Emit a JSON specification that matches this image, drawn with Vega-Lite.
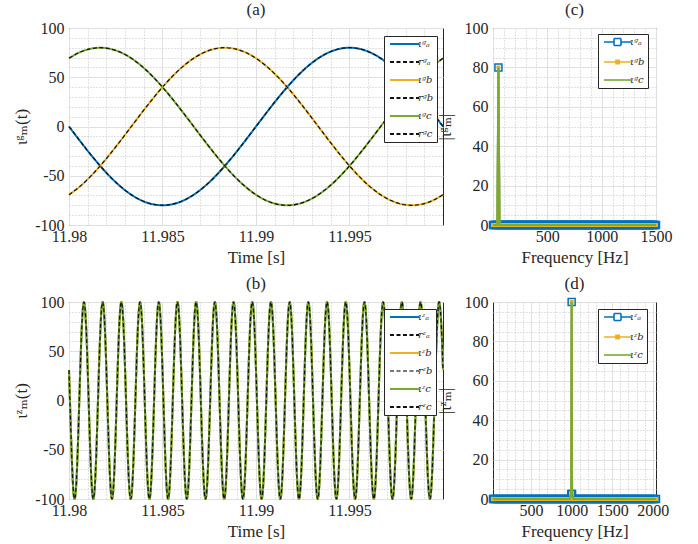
{
"$schema":"https://vega.github.io/schema/vega-lite/v6.json",
"background":"white",
"padding":{"left":12,"top":0,"right":5,"bottom":3},
"config":{
 "font":"Times New Roman, Liberation Serif, DejaVu Serif, serif",
 "view":{"stroke":"#262626","strokeWidth":1},
 "axis":{"labelFont":"Times New Roman","labelFontSize":16,"labelColor":"#262626","titleFont":"Times New Roman, Liberation Serif, DejaVu Serif, serif","titleFontSize":17,"titleFontWeight":"normal","titleColor":"#262626","domain":false,"ticks":false,"labelPadding":5,"grid":true,"labelOverlap":false,"labelFlush":false,
  "encode":{"labels":{"update":{"font":{"value":"Times New Roman"},"fontSize":{"value":16}}}}},
 "axisX":{"titlePadding":5,"labelPadding":3},
 "title":{"font":"Times New Roman, Liberation Serif, DejaVu Serif, serif","fontSize":17,"fontWeight":"normal","color":"#262626","offset":1},
 "legend":{"orient":"none","fillColor":"white","strokeColor":"#262626","padding":3,"labelFont":"DejaVu Serif","labelFontSize":10,"labelFontStyle":"italic","labelColor":"#262626","rowPadding":8,"symbolSize":16,"symbolStrokeWidth":1.8}
},
"datasets":{
 "ag":[
{"t":11.98,"a":0,"b":-69.28,"c":69.28},
{"t":11.980556,"a":-13.89,"b":-61.28,"c":75.18},
{"t":11.981111,"a":-27.36,"b":-51.42,"c":78.78},
{"t":11.981667,"a":-40,"b":-40,"c":80},
{"t":11.982222,"a":-51.42,"b":-27.36,"c":78.78},
{"t":11.982778,"a":-61.28,"b":-13.89,"c":75.18},
{"t":11.983333,"a":-69.28,"b":0,"c":69.28},
{"t":11.983889,"a":-75.18,"b":13.89,"c":61.28},
{"t":11.984444,"a":-78.78,"b":27.36,"c":51.42},
{"t":11.985,"a":-80,"b":40,"c":40},
{"t":11.985556,"a":-78.78,"b":51.42,"c":27.36},
{"t":11.986111,"a":-75.18,"b":61.28,"c":13.89},
{"t":11.986667,"a":-69.28,"b":69.28,"c":0},
{"t":11.987222,"a":-61.28,"b":75.18,"c":-13.89},
{"t":11.987778,"a":-51.42,"b":78.78,"c":-27.36},
{"t":11.988333,"a":-40,"b":80,"c":-40},
{"t":11.988889,"a":-27.36,"b":78.78,"c":-51.42},
{"t":11.989444,"a":-13.89,"b":75.18,"c":-61.28},
{"t":11.99,"a":0,"b":69.28,"c":-69.28},
{"t":11.990556,"a":13.89,"b":61.28,"c":-75.18},
{"t":11.991111,"a":27.36,"b":51.42,"c":-78.78},
{"t":11.991667,"a":40,"b":40,"c":-80},
{"t":11.992222,"a":51.42,"b":27.36,"c":-78.78},
{"t":11.992778,"a":61.28,"b":13.89,"c":-75.18},
{"t":11.993333,"a":69.28,"b":0,"c":-69.28},
{"t":11.993889,"a":75.18,"b":-13.89,"c":-61.28},
{"t":11.994444,"a":78.78,"b":-27.36,"c":-51.42},
{"t":11.995,"a":80,"b":-40,"c":-40},
{"t":11.995556,"a":78.78,"b":-51.42,"c":-27.36},
{"t":11.996111,"a":75.18,"b":-61.28,"c":-13.89},
{"t":11.996667,"a":69.28,"b":-69.28,"c":0},
{"t":11.997222,"a":61.28,"b":-75.18,"c":13.89},
{"t":11.997778,"a":51.42,"b":-78.78,"c":27.36},
{"t":11.998333,"a":40,"b":-80,"c":40},
{"t":11.998889,"a":27.36,"b":-78.78,"c":51.42},
{"t":11.999444,"a":13.89,"b":-75.18,"c":61.28},
{"t":12.0,"a":0,"b":-69.28,"c":69.28}
 ],
 "bz":[
{"t":11.98,"v":30.9},
{"t":11.98005,"v":0},{"t":11.980175,"v":-70.71},{"t":11.9803,"v":-100},{"t":11.980425,"v":-70.71},{"t":11.98055,"v":0},{"t":11.980675,"v":70.71},{"t":11.9808,"v":100},{"t":11.980925,"v":70.71},
{"t":11.98105,"v":0},{"t":11.981175,"v":-70.71},{"t":11.9813,"v":-100},{"t":11.981425,"v":-70.71},{"t":11.98155,"v":0},{"t":11.981675,"v":70.71},{"t":11.9818,"v":100},{"t":11.981925,"v":70.71},
{"t":11.98205,"v":0},{"t":11.982175,"v":-70.71},{"t":11.9823,"v":-100},{"t":11.982425,"v":-70.71},{"t":11.98255,"v":0},{"t":11.982675,"v":70.71},{"t":11.9828,"v":100},{"t":11.982925,"v":70.71},
{"t":11.98305,"v":0},{"t":11.983175,"v":-70.71},{"t":11.9833,"v":-100},{"t":11.983425,"v":-70.71},{"t":11.98355,"v":0},{"t":11.983675,"v":70.71},{"t":11.9838,"v":100},{"t":11.983925,"v":70.71},
{"t":11.98405,"v":0},{"t":11.984175,"v":-70.71},{"t":11.9843,"v":-100},{"t":11.984425,"v":-70.71},{"t":11.98455,"v":0},{"t":11.984675,"v":70.71},{"t":11.9848,"v":100},{"t":11.984925,"v":70.71},
{"t":11.98505,"v":0},{"t":11.985175,"v":-70.71},{"t":11.9853,"v":-100},{"t":11.985425,"v":-70.71},{"t":11.98555,"v":0},{"t":11.985675,"v":70.71},{"t":11.9858,"v":100},{"t":11.985925,"v":70.71},
{"t":11.98605,"v":0},{"t":11.986175,"v":-70.71},{"t":11.9863,"v":-100},{"t":11.986425,"v":-70.71},{"t":11.98655,"v":0},{"t":11.986675,"v":70.71},{"t":11.9868,"v":100},{"t":11.986925,"v":70.71},
{"t":11.98705,"v":0},{"t":11.987175,"v":-70.71},{"t":11.9873,"v":-100},{"t":11.987425,"v":-70.71},{"t":11.98755,"v":0},{"t":11.987675,"v":70.71},{"t":11.9878,"v":100},{"t":11.987925,"v":70.71},
{"t":11.98805,"v":0},{"t":11.988175,"v":-70.71},{"t":11.9883,"v":-100},{"t":11.988425,"v":-70.71},{"t":11.98855,"v":0},{"t":11.988675,"v":70.71},{"t":11.9888,"v":100},{"t":11.988925,"v":70.71},
{"t":11.98905,"v":0},{"t":11.989175,"v":-70.71},{"t":11.9893,"v":-100},{"t":11.989425,"v":-70.71},{"t":11.98955,"v":0},{"t":11.989675,"v":70.71},{"t":11.9898,"v":100},{"t":11.989925,"v":70.71},
{"t":11.99005,"v":0},{"t":11.990175,"v":-70.71},{"t":11.9903,"v":-100},{"t":11.990425,"v":-70.71},{"t":11.99055,"v":0},{"t":11.990675,"v":70.71},{"t":11.9908,"v":100},{"t":11.990925,"v":70.71},
{"t":11.99105,"v":0},{"t":11.991175,"v":-70.71},{"t":11.9913,"v":-100},{"t":11.991425,"v":-70.71},{"t":11.99155,"v":0},{"t":11.991675,"v":70.71},{"t":11.9918,"v":100},{"t":11.991925,"v":70.71},
{"t":11.99205,"v":0},{"t":11.992175,"v":-70.71},{"t":11.9923,"v":-100},{"t":11.992425,"v":-70.71},{"t":11.99255,"v":0},{"t":11.992675,"v":70.71},{"t":11.9928,"v":100},{"t":11.992925,"v":70.71},
{"t":11.99305,"v":0},{"t":11.993175,"v":-70.71},{"t":11.9933,"v":-100},{"t":11.993425,"v":-70.71},{"t":11.99355,"v":0},{"t":11.993675,"v":70.71},{"t":11.9938,"v":100},{"t":11.993925,"v":70.71},
{"t":11.99405,"v":0},{"t":11.994175,"v":-70.71},{"t":11.9943,"v":-100},{"t":11.994425,"v":-70.71},{"t":11.99455,"v":0},{"t":11.994675,"v":70.71},{"t":11.9948,"v":100},{"t":11.994925,"v":70.71},
{"t":11.99505,"v":0},{"t":11.995175,"v":-70.71},{"t":11.9953,"v":-100},{"t":11.995425,"v":-70.71},{"t":11.99555,"v":0},{"t":11.995675,"v":70.71},{"t":11.9958,"v":100},{"t":11.995925,"v":70.71},
{"t":11.99605,"v":0},{"t":11.996175,"v":-70.71},{"t":11.9963,"v":-100},{"t":11.996425,"v":-70.71},{"t":11.99655,"v":0},{"t":11.996675,"v":70.71},{"t":11.9968,"v":100},{"t":11.996925,"v":70.71},
{"t":11.99705,"v":0},{"t":11.997175,"v":-70.71},{"t":11.9973,"v":-100},{"t":11.997425,"v":-70.71},{"t":11.99755,"v":0},{"t":11.997675,"v":70.71},{"t":11.9978,"v":100},{"t":11.997925,"v":70.71},
{"t":11.99805,"v":0},{"t":11.998175,"v":-70.71},{"t":11.9983,"v":-100},{"t":11.998425,"v":-70.71},{"t":11.99855,"v":0},{"t":11.998675,"v":70.71},{"t":11.9988,"v":100},{"t":11.998925,"v":70.71},
{"t":11.99905,"v":0},{"t":11.999175,"v":-70.71},{"t":11.9993,"v":-100},{"t":11.999425,"v":-70.71},{"t":11.99955,"v":0},{"t":11.999675,"v":70.71},{"t":11.9998,"v":100},{"t":11.999925,"v":70.71},
{"t":12.0,"v":30.9}
 ],
 "fg":[
{"f":0,"m":0},{"f":10,"m":0},{"f":20,"m":0},{"f":30,"m":0},{"f":40,"m":0},{"f":50,"m":80},{"f":60,"m":0},{"f":70,"m":0},{"f":80,"m":0},{"f":90,"m":0},
{"f":100,"m":0},{"f":110,"m":0},{"f":120,"m":0},{"f":130,"m":0},{"f":140,"m":0},{"f":150,"m":0},{"f":160,"m":0},{"f":170,"m":0},{"f":180,"m":0},{"f":190,"m":0},
{"f":200,"m":0},{"f":210,"m":0},{"f":220,"m":0},{"f":230,"m":0},{"f":240,"m":0},{"f":250,"m":0},{"f":260,"m":0},{"f":270,"m":0},{"f":280,"m":0},{"f":290,"m":0},
{"f":300,"m":0},{"f":310,"m":0},{"f":320,"m":0},{"f":330,"m":0},{"f":340,"m":0},{"f":350,"m":0},{"f":360,"m":0},{"f":370,"m":0},{"f":380,"m":0},{"f":390,"m":0},
{"f":400,"m":0},{"f":410,"m":0},{"f":420,"m":0},{"f":430,"m":0},{"f":440,"m":0},{"f":450,"m":0},{"f":460,"m":0},{"f":470,"m":0},{"f":480,"m":0},{"f":490,"m":0},
{"f":500,"m":0},{"f":510,"m":0},{"f":520,"m":0},{"f":530,"m":0},{"f":540,"m":0},{"f":550,"m":0},{"f":560,"m":0},{"f":570,"m":0},{"f":580,"m":0},{"f":590,"m":0},
{"f":600,"m":0},{"f":610,"m":0},{"f":620,"m":0},{"f":630,"m":0},{"f":640,"m":0},{"f":650,"m":0},{"f":660,"m":0},{"f":670,"m":0},{"f":680,"m":0},{"f":690,"m":0},
{"f":700,"m":0},{"f":710,"m":0},{"f":720,"m":0},{"f":730,"m":0},{"f":740,"m":0},{"f":750,"m":0},{"f":760,"m":0},{"f":770,"m":0},{"f":780,"m":0},{"f":790,"m":0},
{"f":800,"m":0},{"f":810,"m":0},{"f":820,"m":0},{"f":830,"m":0},{"f":840,"m":0},{"f":850,"m":0},{"f":860,"m":0},{"f":870,"m":0},{"f":880,"m":0},{"f":890,"m":0},
{"f":900,"m":0},{"f":910,"m":0},{"f":920,"m":0},{"f":930,"m":0},{"f":940,"m":0},{"f":950,"m":0},{"f":960,"m":0},{"f":970,"m":0},{"f":980,"m":0},{"f":990,"m":0},
{"f":1000,"m":0},{"f":1010,"m":0},{"f":1020,"m":0},{"f":1030,"m":0},{"f":1040,"m":0},{"f":1050,"m":0},{"f":1060,"m":0},{"f":1070,"m":0},{"f":1080,"m":0},{"f":1090,"m":0},
{"f":1100,"m":0},{"f":1110,"m":0},{"f":1120,"m":0},{"f":1130,"m":0},{"f":1140,"m":0},{"f":1150,"m":0},{"f":1160,"m":0},{"f":1170,"m":0},{"f":1180,"m":0},{"f":1190,"m":0},
{"f":1200,"m":0},{"f":1210,"m":0},{"f":1220,"m":0},{"f":1230,"m":0},{"f":1240,"m":0},{"f":1250,"m":0},{"f":1260,"m":0},{"f":1270,"m":0},{"f":1280,"m":0},{"f":1290,"m":0},
{"f":1300,"m":0},{"f":1310,"m":0},{"f":1320,"m":0},{"f":1330,"m":0},{"f":1340,"m":0},{"f":1350,"m":0},{"f":1360,"m":0},{"f":1370,"m":0},{"f":1380,"m":0},{"f":1390,"m":0},
{"f":1400,"m":0},{"f":1410,"m":0},{"f":1420,"m":0},{"f":1430,"m":0},{"f":1440,"m":0},{"f":1450,"m":0},{"f":1460,"m":0},{"f":1470,"m":0},{"f":1480,"m":0},{"f":1490,"m":0},
{"f":1500,"m":0}
 ],
 "fz":[
{"f":30,"m":0},{"f":40,"m":0},{"f":60,"m":0},{"f":80,"m":0},{"f":100,"m":0},{"f":120,"m":0},{"f":140,"m":0},{"f":160,"m":0},{"f":180,"m":0},
{"f":200,"m":0},{"f":220,"m":0},{"f":240,"m":0},{"f":260,"m":0},{"f":280,"m":0},{"f":300,"m":0},{"f":320,"m":0},{"f":340,"m":0},{"f":360,"m":0},{"f":380,"m":0},
{"f":400,"m":0},{"f":420,"m":0},{"f":440,"m":0},{"f":460,"m":0},{"f":480,"m":0},{"f":500,"m":0},{"f":520,"m":0},{"f":540,"m":0},{"f":560,"m":0},{"f":580,"m":0},
{"f":600,"m":0},{"f":620,"m":0},{"f":640,"m":0},{"f":660,"m":0},{"f":680,"m":0},{"f":700,"m":0},{"f":720,"m":0},{"f":740,"m":0},{"f":760,"m":0},{"f":780,"m":0},
{"f":800,"m":0},{"f":820,"m":0},{"f":840,"m":0},{"f":860,"m":0},{"f":880,"m":0},{"f":900,"m":0},{"f":920,"m":0},{"f":940,"m":0},{"f":960,"m":0},{"f":980,"m":0},
{"f":995,"m":2.5},{"f":1000,"m":100},{"f":1005,"m":2.5},
{"f":1020,"m":0},{"f":1040,"m":0},{"f":1060,"m":0},{"f":1080,"m":0},{"f":1100,"m":0},{"f":1120,"m":0},{"f":1140,"m":0},{"f":1160,"m":0},{"f":1180,"m":0},
{"f":1200,"m":0},{"f":1220,"m":0},{"f":1240,"m":0},{"f":1260,"m":0},{"f":1280,"m":0},{"f":1300,"m":0},{"f":1320,"m":0},{"f":1340,"m":0},{"f":1360,"m":0},{"f":1380,"m":0},
{"f":1400,"m":0},{"f":1420,"m":0},{"f":1440,"m":0},{"f":1460,"m":0},{"f":1480,"m":0},{"f":1500,"m":0},{"f":1520,"m":0},{"f":1540,"m":0},{"f":1560,"m":0},{"f":1580,"m":0},
{"f":1600,"m":0},{"f":1620,"m":0},{"f":1640,"m":0},{"f":1660,"m":0},{"f":1680,"m":0},{"f":1700,"m":0},{"f":1720,"m":0},{"f":1740,"m":0},{"f":1760,"m":0},{"f":1780,"m":0},
{"f":1800,"m":0},{"f":1820,"m":0},{"f":1840,"m":0},{"f":1860,"m":0},{"f":1880,"m":0},{"f":1900,"m":0},{"f":1920,"m":0},{"f":1940,"m":0},{"f":1960,"m":0},{"f":1980,"m":0},
{"f":2000,"m":0},{"f":2020,"m":0},{"f":2040,"m":0}
 ]
},
"columns":2,
"spacing":{"row":77,"column":50},
"bounds":"flush",
"resolve":{"scale":{"color":"independent","strokeDash":"independent"}},
"concat":[
 {
  "width":374,"height":197,
  "title":"(a)",
  "data":{"name":"ag"},
  "transform":[{"fold":["a","b","c"],"as":["ph","v"]}],
  "encoding":{
   "x":{"field":"t","type":"quantitative","scale":{"domain":[11.98,12.0],"nice":false,"zero":false},
    "axis":{"title":"Time [s]","values":[11.98,11.981,11.982,11.983,11.984,11.985,11.986,11.987,11.988,11.989,11.99,11.991,11.992,11.993,11.994,11.995,11.996,11.997,11.998,11.999],
     "labelExpr":"abs(datum.value*200-round(datum.value*200))<0.001 ? format(datum.value,'~g') : ''",
     "encode":{"labels":{"update":{"font":{"value":"Times New Roman"},"fontSize":{"value":16}}}},
     "gridDash":{"condition":{"test":"abs(datum.value*200-round(datum.value*200))<0.001","value":[]},"value":[1,2]},
     "gridColor":{"condition":{"test":"abs(datum.value*200-round(datum.value*200))<0.001","value":"#e0e0e0"},"value":"#c4c4c4"}}},
   "y":{"field":"v","type":"quantitative","scale":{"domain":[-100,100],"nice":false},
    "axis":{"title":"ιᵍₘ(t)","titlePadding":4,"values":[-100,-90,-80,-70,-60,-50,-40,-30,-20,-10,0,10,20,30,40,50,60,70,80,90,100],
     "labelExpr":"datum.value % 50 === 0 ? '' + datum.value : ''",
     "encode":{"labels":{"update":{"font":{"value":"Times New Roman"},"fontSize":{"value":16}}}},
     "gridDash":{"condition":{"test":"datum.value % 50 === 0","value":[]},"value":[1,2]},
     "gridColor":{"condition":{"test":"datum.value % 50 === 0","value":"#e0e0e0"},"value":"#c4c4c4"}}}
  },
  "layer":[
   {"transform":[{"filter":"datum.ph==='a'"}],"mark":{"type":"line","interpolate":"natural","strokeWidth":2},
    "encoding":{
     "color":{"datum":"ιᵍₐ","type":"nominal","scale":{"domain":["ιᵍₐ","rᵍₐ","ιᵍb","rᵍb","ιᵍc","rᵍc"],"range":["#0072BD","#111111","#EDB120","#111111","#77AC30","#111111"]},
      "legend":{"title":null,"symbolType":"M-1,0H13.5","labelOffset":21,"legendX":315,"legendY":8}},
     "strokeDash":{"datum":"ιᵍₐ","type":"nominal","scale":{"domain":["ιᵍₐ","rᵍₐ","ιᵍb","rᵍb","ιᵍc","rᵍc"],"range":[[1,0],[4,2.5],[1,0],[4,2.5],[1,0],[4,2.5]]},
      "legend":{"title":null,"symbolType":"M-1,0H13.5","labelOffset":21,"legendX":315,"legendY":8}}}},
   {"transform":[{"filter":"datum.ph==='a'"}],"mark":{"type":"line","interpolate":"natural","strokeWidth":1.2},
    "encoding":{"color":{"datum":"rᵍₐ","type":"nominal"},"strokeDash":{"datum":"rᵍₐ","type":"nominal"}}},
   {"transform":[{"filter":"datum.ph==='b'"}],"mark":{"type":"line","interpolate":"natural","strokeWidth":2},
    "encoding":{"color":{"datum":"ιᵍb","type":"nominal"},"strokeDash":{"datum":"ιᵍb","type":"nominal"}}},
   {"transform":[{"filter":"datum.ph==='b'"}],"mark":{"type":"line","interpolate":"natural","strokeWidth":1.2},
    "encoding":{"color":{"datum":"rᵍb","type":"nominal"},"strokeDash":{"datum":"rᵍb","type":"nominal"}}},
   {"transform":[{"filter":"datum.ph==='c'"}],"mark":{"type":"line","interpolate":"natural","strokeWidth":2},
    "encoding":{"color":{"datum":"ιᵍc","type":"nominal"},"strokeDash":{"datum":"ιᵍc","type":"nominal"}}},
   {"transform":[{"filter":"datum.ph==='c'"}],"mark":{"type":"line","interpolate":"natural","strokeWidth":1.2},
    "encoding":{"color":{"datum":"rᵍc","type":"nominal"},"strokeDash":{"datum":"rᵍc","type":"nominal"}}}
  ]
 },
 {
  "width":163,"height":197,
  "title":"(c)",
  "data":{"name":"fg"},
  "encoding":{
   "x":{"field":"f","type":"quantitative","scale":{"domain":[0,1500],"nice":false,"zero":false},
    "axis":{"title":"Frequency [Hz]","values":[0,100,200,300,400,500,600,700,800,900,1000,1100,1200,1300,1400,1500],
     "labelExpr":"datum.value > 0 && datum.value % 500 === 0 ? '' + datum.value : ''",
     "encode":{"labels":{"update":{"font":{"value":"Times New Roman"},"fontSize":{"value":16}}}},
     "gridDash":{"condition":{"test":"datum.value % 500 === 0","value":[]},"value":[1,2]},
     "gridColor":{"condition":{"test":"datum.value % 500 === 0","value":"#e0e0e0"},"value":"#c4c4c4"}}},
   "y":{"field":"m","type":"quantitative","scale":{"domain":[0,100],"nice":false},
    "axis":{"title":"|ιᵍₘ|","titlePadding":10,"values":[0,5,10,15,20,25,30,35,40,45,50,55,60,65,70,75,80,85,90,95,100],
     "labelExpr":"datum.value % 20 === 0 ? '' + datum.value : ''",
     "encode":{"labels":{"update":{"font":{"value":"Times New Roman"},"fontSize":{"value":16}}}},
     "gridDash":{"condition":{"test":"datum.value % 20 === 0","value":[]},"value":[1,2]},
     "gridColor":{"condition":{"test":"datum.value % 20 === 0","value":"#e0e0e0"},"value":"#c4c4c4"}}}
  },
  "layer":[
   {"mark":{"type":"line","strokeWidth":2},
    "encoding":{"color":{"datum":"ιᵍₐ","type":"nominal","scale":{"domain":["ιᵍₐ","ιᵍb","ιᵍc"],"range":["#0072BD","#EDB120","#77AC30"]},
     "legend":{"title":null,"symbolSize":16,"labelOffset":19,"legendX":105,"legendY":6,
      "encode":{"symbols":{"update":{
       "shape":{"signal":"datum.index===0 ? 'M-1,0H4M7.5,0H12.5M4,-1.75H7.5M7.5,-1.75V1.75M7.5,1.75H4M4,1.75V-1.75' : datum.index===1 ? 'M-1,0H12.5M5,-0.8H6.6V0.8H5Z' : 'M-1,0H12.5'"},
       "fill":{"value":"transparent"},
       "stroke":{"signal":"datum.index===0 ? '#0072BD' : datum.index===1 ? '#EDB120' : '#77AC30'"},
       "strokeWidth":{"value":1.6}}}}}}}},
   {"mark":{"type":"point","shape":"square","filled":false,"size":49,"strokeWidth":1.5,"opacity":1},
    "encoding":{"color":{"datum":"ιᵍₐ","type":"nominal"}}},
   {"mark":{"type":"line","strokeWidth":2},
    "encoding":{"color":{"datum":"ιᵍb","type":"nominal"}}},
   {"mark":{"type":"point","shape":"square","filled":true,"size":16,"opacity":1},
    "encoding":{"color":{"datum":"ιᵍb","type":"nominal"}}},
   {"mark":{"type":"line","strokeWidth":2},
    "encoding":{"color":{"datum":"ιᵍc","type":"nominal"}}}
  ]
 },
 {
  "width":374,"height":197,
  "title":"(b)",
  "data":{"name":"bz"},
  "encoding":{
   "x":{"field":"t","type":"quantitative","scale":{"domain":[11.98,12.0],"nice":false,"zero":false},
    "axis":{"title":"Time [s]","values":[11.98,11.981,11.982,11.983,11.984,11.985,11.986,11.987,11.988,11.989,11.99,11.991,11.992,11.993,11.994,11.995,11.996,11.997,11.998,11.999],
     "labelExpr":"abs(datum.value*200-round(datum.value*200))<0.001 ? format(datum.value,'~g') : ''",
     "encode":{"labels":{"update":{"font":{"value":"Times New Roman"},"fontSize":{"value":16}}}},
     "gridDash":{"condition":{"test":"abs(datum.value*200-round(datum.value*200))<0.001","value":[]},"value":[1,2]},
     "gridColor":{"condition":{"test":"abs(datum.value*200-round(datum.value*200))<0.001","value":"#e0e0e0"},"value":"#c4c4c4"}}},
   "y":{"field":"v","type":"quantitative","scale":{"domain":[-100,100],"nice":false},
    "axis":{"title":"ιᶻₘ(t)","titlePadding":4,"values":[-100,-90,-80,-70,-60,-50,-40,-30,-20,-10,0,10,20,30,40,50,60,70,80,90,100],
     "labelExpr":"datum.value % 50 === 0 ? '' + datum.value : ''",
     "encode":{"labels":{"update":{"font":{"value":"Times New Roman"},"fontSize":{"value":16}}}},
     "gridDash":{"condition":{"test":"datum.value % 50 === 0","value":[]},"value":[1,2]},
     "gridColor":{"condition":{"test":"datum.value % 50 === 0","value":"#e0e0e0"},"value":"#c4c4c4"}}}
  },
  "layer":[
   {"mark":{"type":"line","interpolate":"natural","strokeWidth":2},
    "encoding":{
     "color":{"datum":"ιᶻₐ","type":"nominal","scale":{"domain":["ιᶻₐ","rᶻₐ","ιᶻb","rᶻb","ιᶻc","rᶻc"],"range":["#0072BD","#111111","#EDB120","#777777","#77AC30","#111111"]},
      "legend":{"title":null,"symbolType":"M-1,0H13.5","labelOffset":21,"legendX":315,"legendY":7}},
     "strokeDash":{"datum":"ιᶻₐ","type":"nominal","scale":{"domain":["ιᶻₐ","rᶻₐ","ιᶻb","rᶻb","ιᶻc","rᶻc"],"range":[[1,0],[4,2.5],[1,0],[4,2.5],[1,0],[4,2.5]]},
      "legend":{"title":null,"symbolType":"M-1,0H13.5","labelOffset":21,"legendX":315,"legendY":7}}}},
   {"mark":{"type":"line","interpolate":"natural","strokeWidth":1.2},
    "encoding":{"color":{"datum":"rᶻₐ","type":"nominal"},"strokeDash":{"datum":"rᶻₐ","type":"nominal"}}},
   {"mark":{"type":"line","interpolate":"natural","strokeWidth":2},
    "encoding":{"color":{"datum":"ιᶻb","type":"nominal"},"strokeDash":{"datum":"ιᶻb","type":"nominal"}}},
   {"mark":{"type":"line","interpolate":"natural","strokeWidth":1.2},
    "encoding":{"color":{"datum":"rᶻb","type":"nominal"},"strokeDash":{"datum":"rᶻb","type":"nominal"}}},
   {"mark":{"type":"line","interpolate":"natural","strokeWidth":2},
    "encoding":{"color":{"datum":"ιᶻc","type":"nominal"},"strokeDash":{"datum":"ιᶻc","type":"nominal"}}},
   {"mark":{"type":"line","interpolate":"natural","strokeWidth":1.2},
    "encoding":{"color":{"datum":"rᶻc","type":"nominal"},"strokeDash":{"datum":"rᶻc","type":"nominal"}}}
  ]
 },
 {
  "width":163,"height":197,
  "title":"(d)",
  "data":{"name":"fz"},
  "encoding":{
   "x":{"field":"f","type":"quantitative","scale":{"domain":[30,2040],"nice":false,"zero":false},
    "axis":{"title":"Frequency [Hz]","values":[100,200,300,400,500,600,700,800,900,1000,1100,1200,1300,1400,1500,1600,1700,1800,1900,2000],
     "labelExpr":"datum.value % 500 === 0 ? '' + datum.value : ''",
     "encode":{"labels":{"update":{"font":{"value":"Times New Roman"},"fontSize":{"value":16}}}},
     "gridDash":{"condition":{"test":"datum.value % 500 === 0","value":[]},"value":[1,2]},
     "gridColor":{"condition":{"test":"datum.value % 500 === 0","value":"#e0e0e0"},"value":"#c4c4c4"}}},
   "y":{"field":"m","type":"quantitative","scale":{"domain":[0,100],"nice":false},
    "axis":{"title":"|ιᶻₘ|","titlePadding":10,"values":[0,5,10,15,20,25,30,35,40,45,50,55,60,65,70,75,80,85,90,95,100],
     "labelExpr":"datum.value % 20 === 0 ? '' + datum.value : ''",
     "encode":{"labels":{"update":{"font":{"value":"Times New Roman"},"fontSize":{"value":16}}}},
     "gridDash":{"condition":{"test":"datum.value % 20 === 0","value":[]},"value":[1,2]},
     "gridColor":{"condition":{"test":"datum.value % 20 === 0","value":"#e0e0e0"},"value":"#c4c4c4"}}}
  },
  "layer":[
   {"mark":{"type":"line","strokeWidth":2},
    "encoding":{"color":{"datum":"ιᶻₐ","type":"nominal","scale":{"domain":["ιᶻₐ","ιᶻb","ιᶻc"],"range":["#0072BD","#EDB120","#77AC30"]},
     "legend":{"title":null,"symbolSize":16,"labelOffset":19,"legendX":105,"legendY":7,
      "encode":{"symbols":{"update":{
       "shape":{"signal":"datum.index===0 ? 'M-1,0H4M7.5,0H12.5M4,-1.75H7.5M7.5,-1.75V1.75M7.5,1.75H4M4,1.75V-1.75' : datum.index===1 ? 'M-1,0H12.5M5,-0.8H6.6V0.8H5Z' : 'M-1,0H12.5'"},
       "fill":{"value":"transparent"},
       "stroke":{"signal":"datum.index===0 ? '#0072BD' : datum.index===1 ? '#EDB120' : '#77AC30'"},
       "strokeWidth":{"value":1.6}}}}}}}},
   {"mark":{"type":"point","shape":"square","filled":false,"size":49,"strokeWidth":1.5,"opacity":1},
    "encoding":{"color":{"datum":"ιᶻₐ","type":"nominal"}}},
   {"mark":{"type":"line","strokeWidth":2},
    "encoding":{"color":{"datum":"ιᶻb","type":"nominal"}}},
   {"mark":{"type":"point","shape":"square","filled":true,"size":16,"opacity":1},
    "encoding":{"color":{"datum":"ιᶻb","type":"nominal"}}},
   {"mark":{"type":"line","strokeWidth":2},
    "encoding":{"color":{"datum":"ιᶻc","type":"nominal"}}}
  ]
 }
]
}
